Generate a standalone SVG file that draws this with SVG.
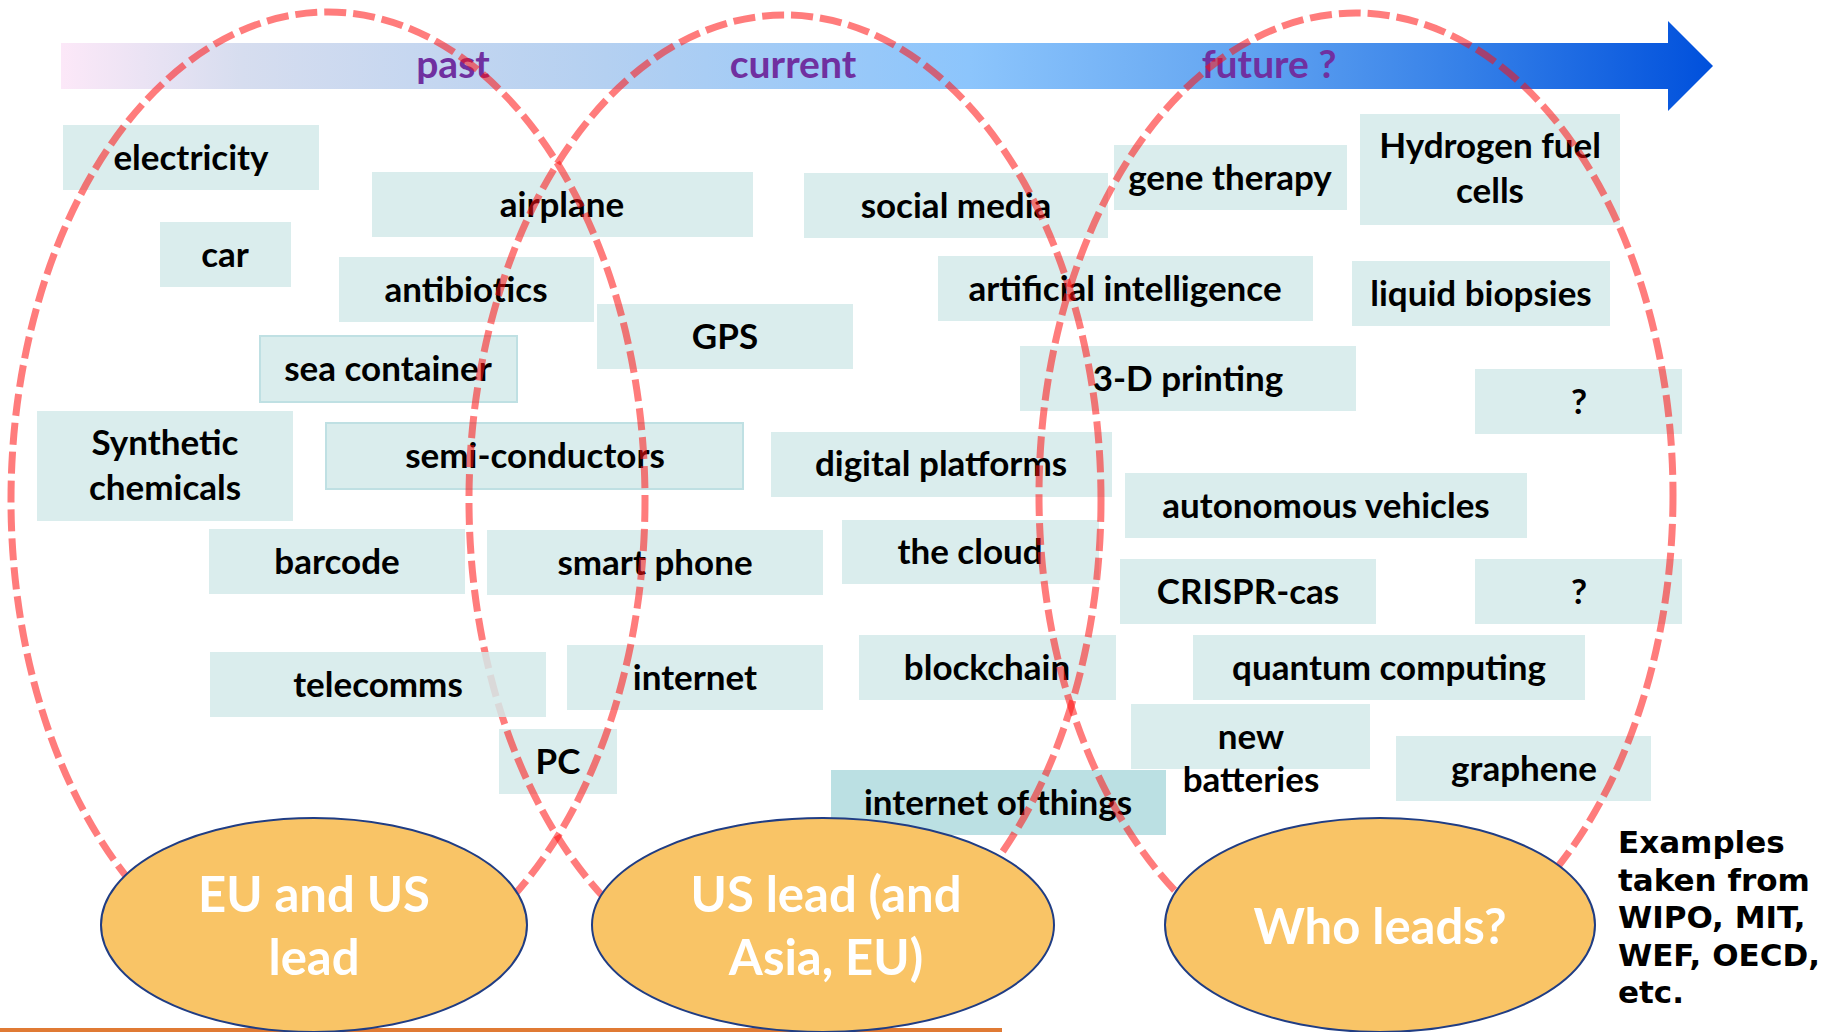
<svg xmlns="http://www.w3.org/2000/svg" width="1843" height="1032" viewBox="0 0 1843 1032">
<style>
.box{fill:#DAEDED}
.boxs{fill:#DAEDED;stroke:#BFE0E3;stroke-width:2}
.lbl{font-family:Lato,"Liberation Sans",sans-serif;font-weight:700;font-size:35px;fill:#000;text-anchor:middle}
.era{font-family:Lato,"Liberation Sans",sans-serif;font-weight:700;font-size:39px;fill:#7030A0;text-anchor:middle}
.lead{fill:#F9C466;stroke:#203D84;stroke-width:2}
.leadt{font-family:Lato,"Liberation Sans",sans-serif;font-weight:700;font-size:49px;fill:#FFFFFF;text-anchor:middle}
.dash{fill:none;stroke:#FF1010;stroke-opacity:0.55;stroke-width:7;stroke-dasharray:22 7}
.note{font-family:"DejaVu Sans","Liberation Sans",sans-serif;font-weight:700;font-size:31px;fill:#000}
</style>
<defs>
<linearGradient id="band" gradientUnits="userSpaceOnUse" x1="61" y1="0" x2="1713" y2="0">
<stop offset="0" stop-color="#FCE8F8"/>
<stop offset="0.11" stop-color="#D6DDEF"/>
<stop offset="0.33" stop-color="#B4D0F1"/>
<stop offset="0.55" stop-color="#8CC5FC"/>
<stop offset="0.70" stop-color="#67A8F2"/>
<stop offset="0.85" stop-color="#3580E8"/>
<stop offset="1" stop-color="#0050DC"/>
</linearGradient>
</defs>
<rect width="1843" height="1032" fill="#FFFFFF"/>
<g id="connectors">
<path id="timeline-arrow" d="M61,43 H1668 V21 L1713,66 L1668,111 V89 H61 Z" fill="url(#band)"/>
</g>
<g id="era-labels">
<text class="era" x="453" y="78">past</text>
<text class="era" x="793" y="78">current</text>
<text class="era" x="1269" y="78">future ?</text>
</g>
<g id="n-electricity"><rect class="box" x="63" y="125" width="256" height="65"/><text class="lbl" x="191" y="170">electricity</text></g>
<g id="n-airplane"><rect class="box" x="372" y="172" width="381" height="65"/><text class="lbl" x="562" y="217">airplane</text></g>
<g id="n-social-media"><rect class="box" x="804" y="173" width="304" height="65"/><text class="lbl" x="956" y="218">social media</text></g>
<g id="n-car"><rect class="box" x="160" y="222" width="131" height="65"/><text class="lbl" x="225" y="267">car</text></g>
<g id="n-antibiotics"><rect class="box" x="339" y="257" width="255" height="65"/><text class="lbl" x="466" y="302">antibiotics</text></g>
<g id="n-gps"><rect class="box" x="597" y="304" width="256" height="65"/><text class="lbl" x="725" y="349">GPS</text></g>
<g id="n-sea-container"><rect class="boxs" x="260" y="336" width="257" height="66"/><text class="lbl" x="388" y="381">sea container</text></g>
<g id="n-synthetic-chemicals"><rect class="box" x="37" y="411" width="256" height="110"/><text class="lbl" x="165" y="455">Synthetic</text><text class="lbl" x="165" y="500">chemicals</text></g>
<g id="n-semi-conductors"><rect class="boxs" x="326" y="423" width="417" height="66"/><text class="lbl" x="535" y="468">semi-conductors</text></g>
<g id="n-digital-platforms"><rect class="box" x="771" y="432" width="341" height="65"/><text class="lbl" x="941" y="476">digital platforms</text></g>
<g id="n-gene-therapy"><rect class="box" x="1114" y="145" width="233" height="65"/><text class="lbl" x="1230" y="190">gene therapy</text></g>
<g id="n-hydrogen"><rect class="box" x="1360" y="114" width="260" height="111"/><text class="lbl" x="1490" y="158">Hydrogen fuel</text><text class="lbl" x="1490" y="203">cells</text></g>
<g id="n-ai"><rect class="box" x="938" y="256" width="375" height="65"/><text class="lbl" x="1125" y="301">artificial intelligence</text></g>
<g id="n-liquid-biopsies"><rect class="box" x="1352" y="261" width="258" height="65"/><text class="lbl" x="1481" y="306">liquid biopsies</text></g>
<g id="n-3d-printing"><rect class="box" x="1020" y="346" width="336" height="65"/><text class="lbl" x="1188" y="391">3-D printing</text></g>
<g id="n-q1"><rect class="box" x="1475" y="369" width="207" height="65"/><text class="lbl" x="1579" y="414">?</text></g>
<g id="n-autonomous"><rect class="box" x="1125" y="473" width="402" height="65"/><text class="lbl" x="1326" y="518">autonomous vehicles</text></g>
<g id="n-barcode"><rect class="box" x="209" y="529" width="256" height="65"/><text class="lbl" x="337" y="574">barcode</text></g>
<g id="n-smart-phone"><rect class="box" x="487" y="530" width="336" height="65"/><text class="lbl" x="655" y="575">smart phone</text></g>
<g id="n-the-cloud"><rect class="box" x="842" y="520" width="257" height="64"/><text class="lbl" x="970" y="564">the cloud</text></g>
<g id="n-crispr"><rect class="box" x="1120" y="559" width="256" height="65"/><text class="lbl" x="1248" y="604">CRISPR-cas</text></g>
<g id="n-q2"><rect class="box" x="1475" y="559" width="207" height="65"/><text class="lbl" x="1579" y="604">?</text></g>
<g id="n-internet"><rect class="box" x="567" y="645" width="256" height="65"/><text class="lbl" x="695" y="690">internet</text></g>
<g id="n-blockchain"><rect class="box" x="859" y="635" width="257" height="65"/><text class="lbl" x="987" y="680">blockchain</text></g>
<g id="n-quantum"><rect class="box" x="1193" y="635" width="392" height="65"/><text class="lbl" x="1389" y="680">quantum computing</text></g>
<g id="n-new-batteries"><rect class="box" x="1131" y="704" width="239" height="65"/><text class="lbl" x="1251" y="749">new</text><text class="lbl" x="1251" y="792">batteries</text></g>
<g id="n-pc"><rect class="box" x="499" y="729" width="118" height="65"/><text class="lbl" x="558" y="774">PC</text></g>
<g id="n-graphene"><rect class="box" x="1396" y="736" width="255" height="65"/><text class="lbl" x="1524" y="781">graphene</text></g>
<g id="n-internet-of-things"><rect x="831" y="770" width="335" height="65" fill="#BBE0E3"/><text class="lbl" x="998" y="815">internet of things</text></g>
<g id="eras-dashed">
<ellipse class="dash" cx="328" cy="500" rx="317" ry="488"/>
<ellipse class="dash" cx="785" cy="500" rx="316" ry="485"/>
<ellipse class="dash" cx="1356" cy="495" rx="317" ry="482"/>
</g>
<g id="n-telecomms"><rect x="210" y="652" width="336" height="65" fill="#D4EAEA" fill-opacity="0.85"/><text class="lbl" x="378" y="697">telecomms</text></g>
<rect x="0" y="1028" width="1002" height="4" fill="#E07A34"/>
<g id="n-eu-us-lead"><ellipse class="lead" cx="314" cy="925" rx="213" ry="107"/><text class="leadt" x="314" y="912">EU and US</text><text class="leadt" x="314" y="975">lead</text></g>
<g id="n-us-lead"><ellipse class="lead" cx="823" cy="925" rx="231" ry="107"/><text class="leadt" x="826" y="912">US lead (and</text><text class="leadt" x="826" y="975">Asia, EU)</text></g>
<g id="n-who-leads"><ellipse class="lead" cx="1380" cy="925" rx="215" ry="107"/><text class="leadt" x="1380" y="944">Who leads?</text></g>
<g id="source-note">
<text class="note" x="1618" y="853">Examples</text>
<text class="note" x="1618" y="891">taken from</text>
<text class="note" x="1618" y="928">WIPO, MIT,</text>
<text class="note" x="1618" y="966">WEF, OECD,</text>
<text class="note" x="1618" y="1003">etc.</text>
</g>
</svg>
